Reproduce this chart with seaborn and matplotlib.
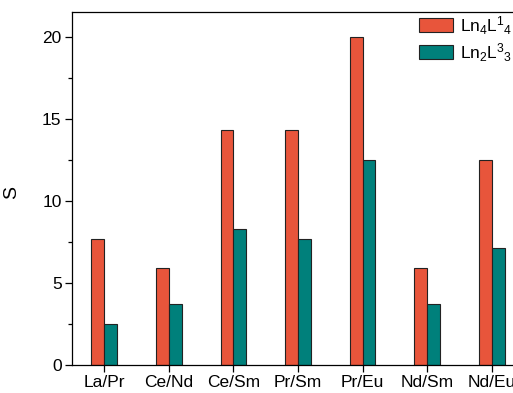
import pandas as pd
import matplotlib.pyplot as plt
import seaborn as sns
from matplotlib.ticker import MultipleLocator

pares = ["La/Pr", "Ce/Nd", "Ce/Sm", "Pr/Sm", "Pr/Eu", "Nd/Sm", "Nd/Eu"]
s_ln4 = [7.7, 5.9, 14.3, 14.3, 20.0, 5.9, 12.5]
s_ln2 = [2.5, 3.7, 8.3, 7.7, 12.5, 3.7, 7.1]
series = ["Ln$_4$L$^1$$_4$", "Ln$_2$L$^3$$_3$"]

df = pd.DataFrame({
    "par": pares * 2,
    "S": s_ln4 + s_ln2,
    "serie": [series[0]] * len(pares) + [series[1]] * len(pares),
})

sns.set_style("ticks")
plt.rcParams["font.family"] = ["Liberation Sans", "DejaVu Sans"]
plt.rcParams["mathtext.fontset"] = "custom"
plt.rcParams["mathtext.rm"] = "Liberation Sans"
plt.rcParams["mathtext.it"] = "Liberation Sans"
plt.rcParams["text.color"] = "black"
plt.rcParams["axes.labelcolor"] = "black"
plt.rcParams["xtick.color"] = "black"
plt.rcParams["ytick.color"] = "black"
plt.rcParams["axes.edgecolor"] = "black"

fig = plt.figure(figsize=(5.13, 3.93), dpi=100)
# o eixo passa da borda da figura, como no original (recortado à direita)
ax = fig.add_axes([0.1404, 0.0712, 0.881, 0.898])

sns.barplot(data=df, x="par", y="S", hue="serie", order=pares,
            palette=["#E8553B", "#00807B"], width=0.4, saturation=1,
            edgecolor="#222222", linewidth=0.8, ax=ax)

ax.set_ylim(0, 21.5)
ax.set_xlim(-0.5, 6.5)
ax.yaxis.set_major_locator(MultipleLocator(5))
ax.yaxis.set_minor_locator(MultipleLocator(2.5))
ax.tick_params(axis="both", direction="out", labelsize=12.5, width=0.9, length=5, pad=2.5)
ax.tick_params(axis="y", which="minor", length=3, width=0.9)
for sp in ax.spines.values():
    sp.set_linewidth(0.9)
ax.spines["right"].set_visible(False)
ax.set_xlabel("")
ax.set_ylabel("S", fontsize=14)
ax.yaxis.set_label_coords(-0.115, 0.49)

ax.legend(loc="upper left", bbox_to_anchor=(0.753, 1.014), frameon=False,
          fontsize=12.5, handlelength=1.95, handleheight=0.85,
          labelspacing=0.25, handletextpad=0.4, borderaxespad=0)

fig.savefig("out.png", dpi=100)
